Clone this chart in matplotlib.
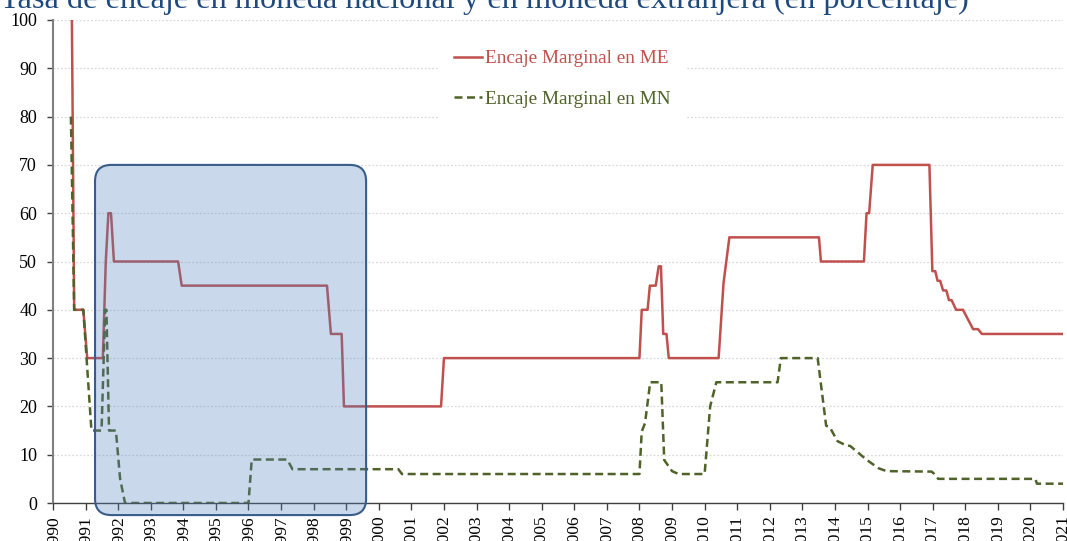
import numpy as np
import matplotlib
matplotlib.use("Agg")
import matplotlib.pyplot as plt
from matplotlib.patches import FancyBboxPatch

plt.rcParams['font.family'] = ['Liberation Serif', 'DejaVu Serif']

# breakpoints (year, %)
me_x = [1990.58, 1990.65, 1990.93, 1991.05, 1991.53, 1991.62, 1991.70, 1991.78, 1991.87,
        1993.84, 1993.95, 1998.41, 1998.53, 1998.86, 1998.93, 2001.91, 2002.00,
        2008.00, 2008.07, 2008.25, 2008.32, 2008.50, 2008.59, 2008.66, 2008.73, 2008.83,
        2008.90, 2010.43, 2010.58, 2010.76, 2013.51, 2013.57, 2014.89, 2014.97, 2015.05,
        2015.16, 2016.90, 2016.99, 2017.08, 2017.15, 2017.23, 2017.32, 2017.42, 2017.50,
        2017.58, 2017.72, 2017.93, 2018.24, 2018.39, 2018.51, 2021.00]
me_y = [100, 40, 40, 30, 30, 50, 60, 60, 50,
        50, 45, 45, 35, 35, 20, 20, 30,
        30, 40, 40, 45, 45, 49, 49, 35, 35,
        30, 30, 45.5, 55, 55, 50, 50, 60, 60,
        70, 70, 48, 48, 46, 46, 44, 44, 42,
        42, 40, 40, 36, 36, 35, 35]

mn_x = [1990.55, 1990.65, 1990.93, 1991.03, 1991.18, 1991.49, 1991.60, 1991.64, 1991.72,
        1991.93, 1992.06, 1992.21, 1996.00, 1996.10, 1997.19, 1997.35, 2000.60, 2000.71,
        2008.00, 2008.07, 2008.17, 2008.33, 2008.67, 2008.76, 2009.00, 2009.20, 2010.00,
        2010.17, 2010.36, 2012.24, 2012.34, 2013.47, 2013.73, 2013.84, 2014.08, 2014.32,
        2014.47, 2014.98, 2015.34, 2015.50, 2015.60, 2016.97, 2017.05, 2017.17, 2020.15,
        2020.20, 2021.00]
mn_y = [80, 40, 40, 30, 15, 15, 40, 40, 15,
        15, 5, 0, 0, 9, 9, 7, 7, 6,
        6, 14.8, 16.5, 25, 25, 8.9, 6.6, 6, 6,
        20, 25, 25, 30, 30, 16, 15.7, 12.8, 12,
        11.8, 8.9, 7.2, 6.8, 6.6, 6.5, 6.0, 5, 5,
        4, 4]

years = list(range(1990, 2022))
year_labels = [str(y) for y in years]
title = 'Tasa de encaje en moneda nacional y en moneda extranjera (en porcentaje)'

red = '#c0504d'
green = '#4f6228'

fig = plt.figure(figsize=(10.67, 5.41), dpi=100)
ax = fig.add_axes([53/1067, 1-503/541, 1010/1067, 483/541])

ax.plot(me_x, me_y, color=red, lw=1.8, label='Encaje Marginal en ME', zorder=3)
ax.plot(mn_x, mn_y, color=green, lw=1.8, ls=(0, (3.2, 1.8)), label='Encaje Marginal en MN', zorder=4)

# shaded period 1991-1999
aspect = (1010/31) / (483/100)
box = FancyBboxPatch((1991.29, -2.5), 8.32, 72.5,
                     boxstyle='round,pad=0,rounding_size=0.5', mutation_aspect=aspect,
                     facecolor=(0.31, 0.506, 0.741, 0.3), edgecolor='#385d8a',
                     lw=1.5, zorder=5, clip_on=False)
ax.add_patch(box)

ax.set_xlim(1990, 2021)
ax.set_ylim(0, 100)
ax.set_xticks(years)
ax.set_xticklabels(year_labels, rotation=90, fontsize=12.5)
ax.set_yticks(range(0, 101, 10))
ax.tick_params(axis='y', labelsize=13, length=4.5, width=1, pad=7, color='#404040')
ax.tick_params(axis='x', length=5, width=1, pad=4, color='#404040')
ax.yaxis.grid(True, color='#d9d9d9', ls=(0, (1.5, 1.5)), lw=0.9)
ax.set_axisbelow(True)

for s in ['top', 'right']:
    ax.spines[s].set_visible(False)
ax.spines['left'].set_color('#808080')
ax.spines['left'].set_linewidth(1.5)
ax.spines['bottom'].set_color('#404040')
ax.spines['bottom'].set_linewidth(1.0)

leg = ax.legend(loc='upper left', bbox_to_anchor=(0.372, 0.99), fontsize=13.9,
                frameon=True, facecolor='white', edgecolor='none', framealpha=1,
                handlelength=1.45, handletextpad=0.15, labelspacing=1.18,
                borderpad=0.8, fancybox=False)
leg.set_zorder(6)
for txt, c in zip(leg.get_texts(), [red, green]):
    txt.set_color(c)

fig.text(0.0, 1-8/541, title, fontsize=23.3, color='#1f497d', va='baseline', ha='left')

fig.savefig('out.png', dpi=100)
